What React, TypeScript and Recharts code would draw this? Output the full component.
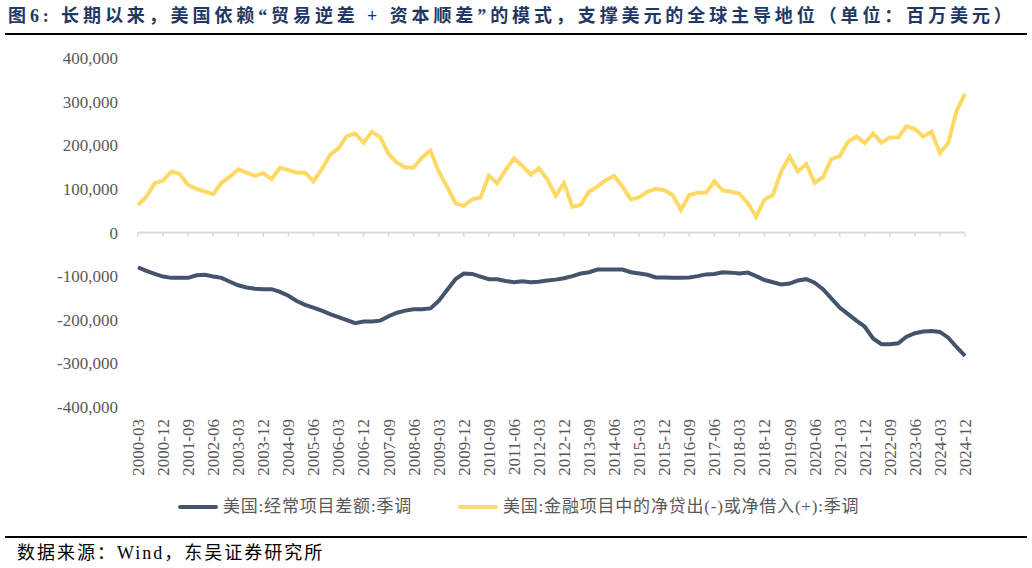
import React from "react";
import { LineChart, Line, XAxis, YAxis, ReferenceLine } from "recharts";

// Quarterly categories 2000-03 … 2024-12
const years: number[] = [];
for (let y = 2000; y <= 2024; y++) years.push(y);
const quarterEnds = ["03", "06", "09", "12"];
const categories: string[] = years.flatMap((y) => quarterEnds.map((m) => `${y}-${m}`));

// 美国:经常项目差额:季调 (百万美元)
const currentAccount: number[] = [
  -80000, -88000, -95000, -101000, -104000, -104000, -104000, -98000, -97000, -101000,
  -104000, -113000, -121000, -126000, -129000, -130000, -130000, -136000, -145000, -157000,
  -166000, -172000, -179000, -187000, -194000, -201000, -208000, -204000, -204000, -202000,
  -192000, -184000, -179000, -176000, -176000, -174000, -157000, -132000, -107000, -94000,
  -95000, -101000, -107000, -107000, -111000, -114000, -112000, -114000, -113000, -110000,
  -108000, -105000, -100000, -94000, -91000, -85000, -85000, -85000, -85000, -91000,
  -94000, -97000, -103000, -103000, -104000, -104000, -103000, -100000, -96000, -95000,
  -91000, -92000, -94000, -92000, -100000, -109000, -114000, -119000, -117000, -110000,
  -107000, -115000, -130000, -151000, -172000, -187000, -202000, -216000, -243000, -256000,
  -256000, -254000, -239000, -231000, -227000, -226000, -228000, -241000, -263000, -283000,
];

// 美国:金融项目中的净贷出(-)或净借入(+):季调 (百万美元)
const financialAccount: number[] = [
  63000, 82000, 113000, 119000, 140000, 134000, 109000, 100000, 94000, 88000,
  114000, 128000, 145000, 137000, 130000, 136000, 122000, 149000, 143000, 137000,
  137000, 117000, 145000, 178000, 193000, 221000, 227000, 206000, 231000, 218000,
  180000, 160000, 149000, 149000, 172000, 188000, 140000, 105000, 67000, 61000,
  76000, 80000, 130000, 113000, 143000, 170000, 153000, 133000, 147000, 122000,
  84000, 113000, 59000, 63000, 94000, 105000, 120000, 130000, 105000, 76000,
  81000, 94000, 100000, 97000, 86000, 52000, 86000, 91000, 91000, 117000,
  96000, 94000, 89000, 67000, 36000, 76000, 86000, 140000, 174000, 140000,
  157000, 114000, 127000, 168000, 175000, 208000, 220000, 205000, 227000, 206000,
  218000, 218000, 244000, 237000, 220000, 231000, 182000, 206000, 279000, 318000,
];

const yTicks: number[] = [400000, 300000, 200000, 100000, 0, -100000, -200000, -300000, -400000];
const tickMarkDepth = -10000;

const seriesNames = {
  ca: "美国:经常项目差额:季调",
  fa: "美国:金融项目中的净贷出(-)或净借入(+):季调",
};
const colors = { ca: "#44546A", fa: "#FFD966" };

const data = categories.map((c, i) => ({
  date: c,
  ca: currentAccount[i],
  fa: financialAccount[i],
}));

const tickCats = categories.filter((_, i) => i % 3 === 0);

const FONT = "'Liberation Serif', 'Times New Roman', 'Noto Sans CJK SC', serif";
const CJK = "'Liberation Serif', 'Noto Sans CJK SC', serif";

const fmt = (v: number) => v.toLocaleString("en-US");

const XTick = (props: any) => {
  const { x, y, payload } = props;
  return (
    <text
      x={x}
      y={y}
      transform={`rotate(-90 ${x} ${y})`}
      textAnchor="end"
      dy="0.35em"
      fontSize={17}
      fill="#595959"
      fontFamily={FONT}
    >
      {payload.value}
    </text>
  );
};

export default function App() {
  return (
    <div
      style={{
        position: "absolute",
        left: 0,
        top: 0,
        width: 1032,
        height: 568,
        background: "#fff",
        fontFamily: CJK,
        overflow: "hidden",
      }}
    >
      <div
        style={{
          position: "absolute",
          left: 8,
          top: 4,
          fontSize: 18,
          lineHeight: "24px",
          fontWeight: "bold",
          color: "#1F3864",
          whiteSpace: "nowrap",
          letterSpacing: 3.9,
        }}
      >
        图6: 长期以来，美国依赖“贸易逆差 + 资本顺差”的模式，支撑美元的全球主导地位（单位：百万美元）
      </div>
      <div style={{ position: "absolute", left: 5, top: 33, width: 1022, height: 2, background: "#000" }} />

      <div style={{ position: "absolute", left: 0, top: 0 }}>
        <LineChart
          width={1032}
          height={500}
          data={data}
          margin={{ top: 58, right: 67, left: 18, bottom: 0 }}
        >
          <XAxis
            dataKey="date"
            interval={2}
            tickLine={false}
            axisLine={false}
            height={93}
            tickMargin={6}
            tick={<XTick />}
          />
          <YAxis
            domain={[-400000, 400000]}
            ticks={yTicks}
            tickFormatter={fmt}
            width={120}
            axisLine={false}
            tickLine={false}
            tickMargin={14}
            tick={{ fontSize: 17, fill: "#595959", fontFamily: FONT }}
          />
          <ReferenceLine y={0} stroke="#D9D9D9" strokeWidth={2} />
          {tickCats.map((c) => (
            <ReferenceLine
              key={c}
              segment={[
                { x: c, y: 0 },
                { x: c, y: tickMarkDepth },
              ]}
              stroke="#D9D9D9"
              strokeWidth={1.5}
              ifOverflow="visible"
            />
          ))}
          <Line
            type="linear"
            dataKey="fa"
            stroke={colors.fa}
            strokeWidth={4}
            dot={false}
            isAnimationActive={false}
          />
          <Line
            type="linear"
            dataKey="ca"
            stroke={colors.ca}
            strokeWidth={4}
            dot={false}
            isAnimationActive={false}
          />
        </LineChart>
      </div>

      {/* legend */}
      <div style={{ position: "absolute", left: 178, top: 505, width: 40, height: 4, borderRadius: 2, background: colors.ca }} />
      <div
        style={{ position: "absolute", left: 223, top: 495, fontSize: 17, lineHeight: "24px", color: "#595959", whiteSpace: "nowrap", letterSpacing: 0.8 }}
      >
        {seriesNames.ca}
      </div>
      <div style={{ position: "absolute", left: 458, top: 505, width: 40, height: 4, borderRadius: 2, background: colors.fa }} />
      <div
        style={{ position: "absolute", left: 503, top: 495, fontSize: 17, lineHeight: "24px", color: "#595959", whiteSpace: "nowrap", letterSpacing: 0.8 }}
      >
        {seriesNames.fa}
      </div>

      <div style={{ position: "absolute", left: 5, top: 536, width: 1022, height: 2, background: "#000" }} />
      <div
        style={{ position: "absolute", left: 17, top: 541, fontSize: 18, lineHeight: "24px", color: "#000", whiteSpace: "nowrap", letterSpacing: 2 }}
      >
        数据来源：Wind，东吴证券研究所
      </div>
    </div>
  );
}
